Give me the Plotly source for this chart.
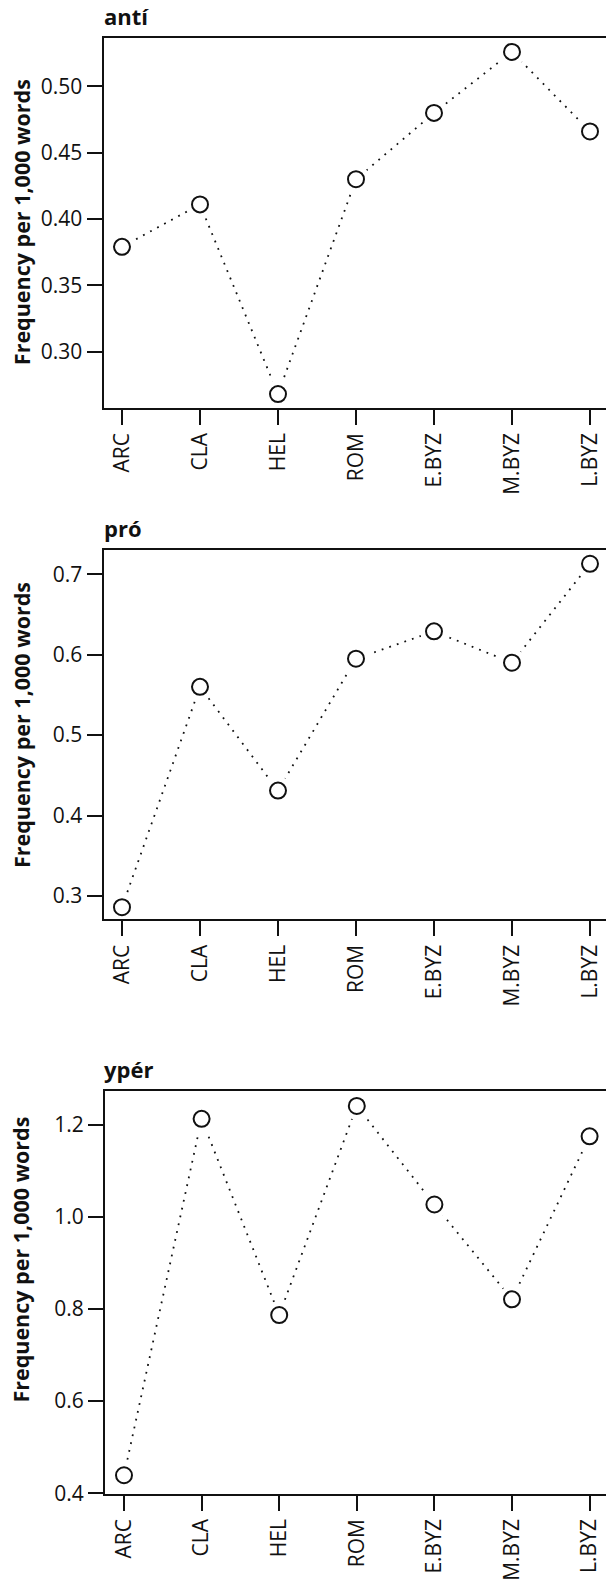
import plotly.graph_objects as go

categories = ["ARC", "CLA", "HEL", "ROM", "E.BYZ", "M.BYZ", "L.BYZ"]
anti = [0.379, 0.411, 0.268, 0.430, 0.480, 0.526, 0.466]
pro = [0.286, 0.560, 0.431, 0.595, 0.629, 0.590, 0.713]
yper = [0.439, 1.213, 0.787, 1.241, 1.027, 0.821, 1.175]

panel_titles = ["antí", "pró", "ypér"]
y_title = "Frequency per 1,000 words"

W, H = 606, 1588
FONT = "Open Sans"
INK = "#111111"
FS_TICK = 21
FS_YT = 21.5
FS_TITLE = 22

panels = [
    dict(vals=anti, yrange=[0.2578, 0.5367], dtick=0.05, fmt=".2f",
         top=38, bottom=411, left=103.5, first=122, step=78, title_c=224),
    dict(vals=pro, yrange=[0.2708, 0.7296], dtick=0.1, fmt=".1f",
         top=555, bottom=927, left=103.5, first=122, step=78, title_c=731),
    dict(vals=yper, yrange=[0.399, 1.2735], dtick=0.2, fmt=".1f",
         top=1100, bottom=1506, left=105, first=124, step=77.6, title_c=1270),
]

fig = go.Figure()
layout = dict(
    width=W, height=H, margin=dict(l=0, r=0, t=0, b=0),
    paper_bgcolor="white", plot_bgcolor="white", showlegend=False,
    font=dict(family=FONT, size=FS_TICK, color=INK),
)
annotations = []

for i, p in enumerate(panels):
    n = "" if i == 0 else str(i + 1)
    xa, ya = "x" + n, "y" + n
    # dotted connecting line
    fig.add_trace(go.Scatter(x=categories, y=p["vals"], mode="lines",
                             line=dict(color=INK, width=1.8, dash="1.8px,6.2px"),
                             xaxis=xa, yaxis=ya, hoverinfo="skip"))
    # white halo to create gaps around points
    fig.add_trace(go.Scatter(x=categories, y=p["vals"], mode="markers",
                             marker=dict(size=28, color="white", line=dict(width=0)),
                             xaxis=xa, yaxis=ya, hoverinfo="skip"))
    # open circles
    fig.add_trace(go.Scatter(x=categories, y=p["vals"], mode="markers",
                             marker=dict(size=16, color="white", symbol="circle",
                                         line=dict(color=INK, width=2)),
                             xaxis=xa, yaxis=ya))
    x0 = p["left"] / W
    lo = (p["left"] - p["first"]) / p["step"]
    hi = (W - p["first"]) / p["step"]
    layout["xaxis" + n] = dict(
        domain=[x0, 1.0], anchor=ya, type="category",
        categoryorder="array", categoryarray=categories,
        range=[lo, hi], showgrid=False, zeroline=False,
        showline=True, mirror=True, linecolor=INK, linewidth=2,
        ticks="outside", ticklen=15, tickwidth=2, tickcolor=INK,
        tickangle=-90, tickfont=dict(family=FONT, size=FS_TICK, color=INK),
    )
    layout["yaxis" + n] = dict(
        domain=[1 - p["bottom"] / H, 1 - p["top"] / H], anchor=xa,
        range=p["yrange"], dtick=p["dtick"], tick0=0, tickformat=p["fmt"],
        showgrid=False, zeroline=False,
        showline=True, mirror=False, linecolor=INK, linewidth=2,
        ticks="outside", ticklen=15, tickwidth=2, tickcolor=INK,
        tickfont=dict(family=FONT, size=FS_TICK, color=INK),
    )
    annotations.append(dict(
        text="<b>%s</b>" % panel_titles[i], xref="paper", yref="paper",
        x=102 / W, y=1 - p["top"] / H, xanchor="left", yanchor="bottom",
        yshift=5, showarrow=False, font=dict(family=FONT, size=FS_TITLE, color=INK)))
    annotations.append(dict(
        text="<b>%s</b>" % y_title, xref="paper", yref="paper",
        x=21 / W, y=1 - p["title_c"] / H, xanchor="center", yanchor="middle",
        textangle=-90, showarrow=False,
        font=dict(family=FONT, size=FS_YT, color=INK)))

layout["annotations"] = annotations
fig.update_layout(**layout)
fig.write_html("out.html")
